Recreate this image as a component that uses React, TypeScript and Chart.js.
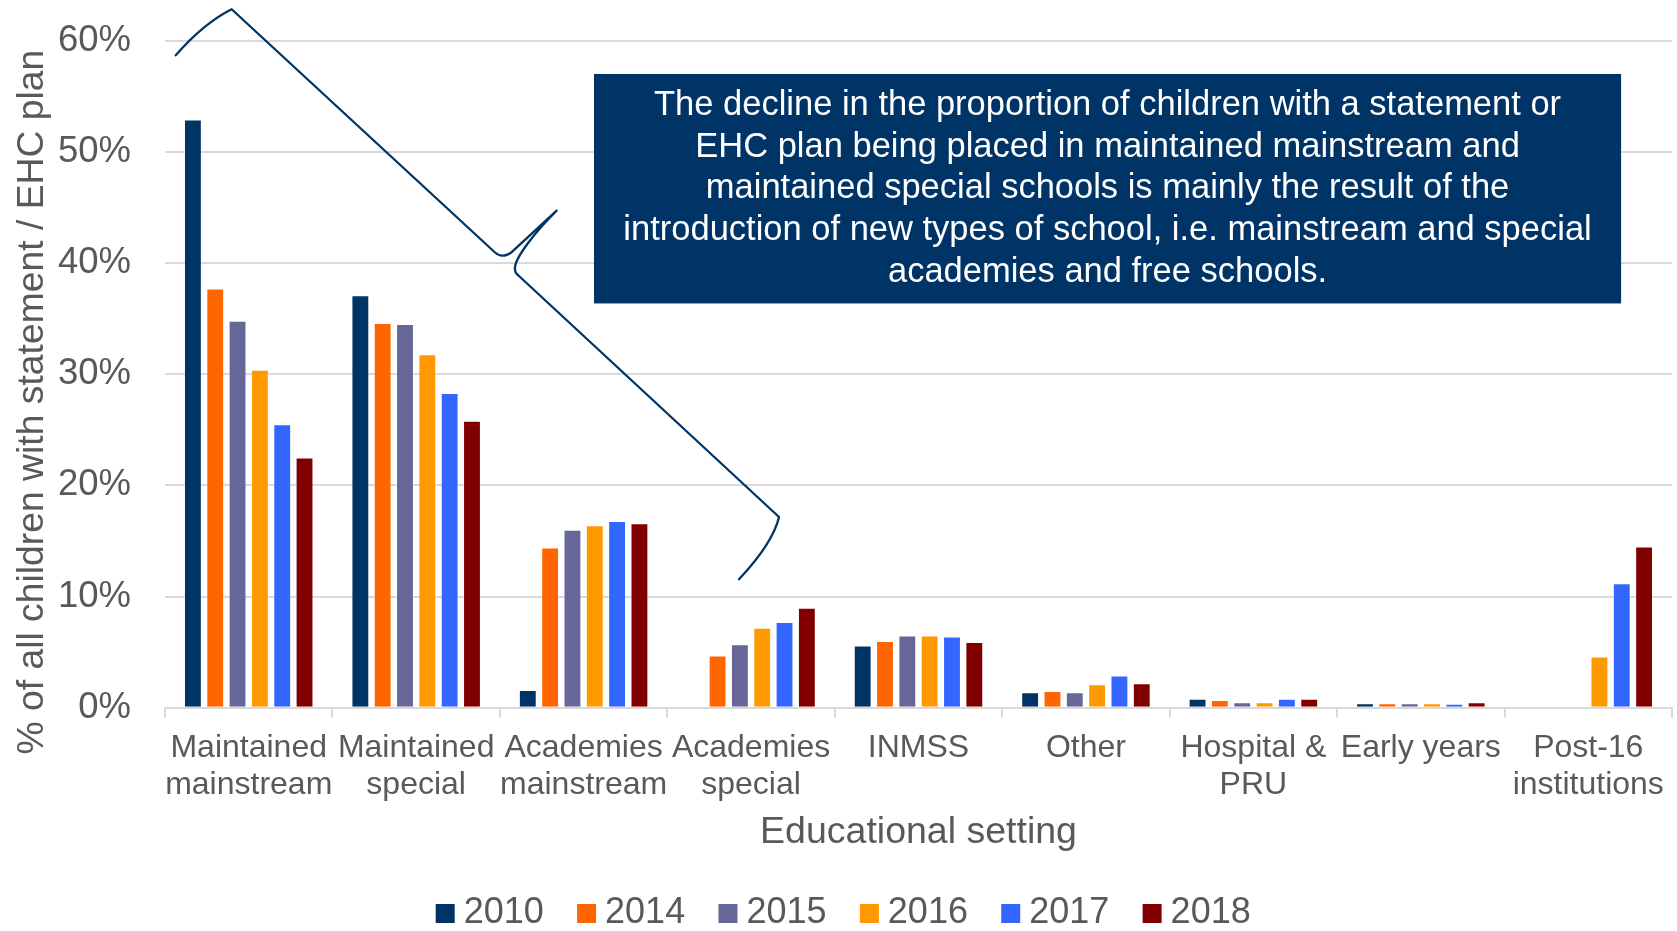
import React, { useEffect, useRef } from "react";
import { Chart, registerables } from "chart.js";

Chart.register(...registerables);

// ---------- data ----------
const categories: (string | string[])[] = [
  ["Maintained", "mainstream"],
  ["Maintained", "special"],
  ["Academies", "mainstream"],
  ["Academies", "special"],
  "INMSS",
  "Other",
  ["Hospital &", "PRU"],
  "Early years",
  ["Post-16", "institutions"],
];

const years = ["2010", "2014", "2015", "2016", "2017", "2018"];
const yearColors = ["#003366", "#FF6600", "#666699", "#FF9900", "#3366FF", "#800000"];

const v2010 = [52.9, 37.1, 1.6, null, 5.6, 1.4, 0.8, 0.4, null];
const v2014 = [37.7, 34.6, 14.4, 4.7, 6.0, 1.5, 0.7, 0.4, null];
const v2015 = [34.8, 34.5, 16.0, 5.7, 6.5, 1.4, 0.5, 0.4, null];
const v2016 = [30.4, 31.8, 16.4, 7.2, 6.5, 2.1, 0.5, 0.4, 4.6];
const v2017 = [25.5, 28.3, 16.8, 7.7, 6.4, 2.9, 0.8, 0.35, 11.2];
const v2018 = [22.5, 25.8, 16.6, 9.0, 5.9, 2.2, 0.8, 0.5, 14.5];
const seriesValues = [v2010, v2014, v2015, v2016, v2017, v2018];

const yMin = 0;
const yMax = 60;
const yStep = 10;

const yTitle = "% of all children with statement / EHC plan";
const xTitle = "Educational setting";

const noteLines = [
  "The decline in the proportion of children with a statement or",
  "EHC plan being placed in maintained mainstream and",
  "maintained special schools is mainly the result of the",
  "introduction of new types of school, i.e. mainstream and special",
  "academies and free schools.",
];

// annotation anchors, in (category index, percent) units
const noteBox = { x0: 2.062, x1: 8.196, yTop: 57.0, yBottom: 36.36 };
type Cmd = { t: "M" | "L" | "Q" | "C"; p: number[][] };
const bracePath: Cmd[] = [
  { t: "M", p: [[-0.436, 58.68]] },
  { t: "Q", p: [[-0.267, 61.58], [-0.102, 62.82]] },
  { t: "L", p: [[1.471, 40.94]] },
  { t: "Q", p: [[1.513, 40.36], [1.572, 40.99]] },
  { t: "L", p: [[1.839, 44.7]] },
  { t: "C", p: [[1.71, 42.79], [1.59, 40.45], [1.59, 39.55]] },
  { t: "Q", p: [[1.587, 39.1], [1.614, 38.83]] },
  { t: "L", p: [[3.167, 17.15]] },
  { t: "Q", p: [[3.131, 14.81], [2.928, 11.55]] },
];

const FONT = "'Liberation Sans', Arial, Helvetica, sans-serif";
const TEXT = "#595959";
const GRID = "#D9D9D9";
const NAVY = "#003366";

const annotationPlugin = {
  id: "noteAnnotation",
  afterDraw(chart: any) {
    const { ctx, scales } = chart;
    const xs = scales.x;
    const ys = scales.y;
    const px = (v: number) => xs.getPixelForValue(v);
    const py = (v: number) => ys.getPixelForValue(v);
    ctx.save();
    // brace
    ctx.beginPath();
    for (const c of bracePath) {
      const pts = c.p.map(([a, b]) => [px(a), py(b)]);
      if (c.t === "M") ctx.moveTo(pts[0][0], pts[0][1]);
      else if (c.t === "L") ctx.lineTo(pts[0][0], pts[0][1]);
      else if (c.t === "Q") ctx.quadraticCurveTo(pts[0][0], pts[0][1], pts[1][0], pts[1][1]);
      else ctx.bezierCurveTo(pts[0][0], pts[0][1], pts[1][0], pts[1][1], pts[2][0], pts[2][1]);
    }
    ctx.strokeStyle = NAVY;
    ctx.lineWidth = 2.3;
    ctx.lineJoin = "round";
    ctx.lineCap = "round";
    ctx.stroke();
    // box
    const bx0 = px(noteBox.x0);
    const bx1 = px(noteBox.x1);
    const by0 = py(noteBox.yTop);
    const by1 = py(noteBox.yBottom);
    ctx.fillStyle = NAVY;
    ctx.fillRect(bx0, by0, bx1 - bx0, by1 - by0);
    ctx.fillStyle = "#FFFFFF";
    ctx.font = `34.5px ${FONT}`;
    ctx.textAlign = "center";
    ctx.textBaseline = "middle";
    const cx = (bx0 + bx1) / 2;
    const cy = (by0 + by1) / 2;
    const lh = 41.7;
    noteLines.forEach((line, i) => {
      ctx.fillText(line, cx, cy + (i - (noteLines.length - 1) / 2) * lh);
    });
    ctx.restore();
  },
};

const yTitlePlugin = {
  id: "yTitle",
  afterDraw(chart: any) {
    const { ctx, chartArea } = chart;
    ctx.save();
    ctx.translate(33, (chartArea.top + chartArea.bottom) / 2 + 28);
    ctx.rotate(-Math.PI / 2);
    ctx.fillStyle = TEXT;
    ctx.font = `37.3px ${FONT}`;
    ctx.textAlign = "center";
    ctx.textBaseline = "middle";
    ctx.fillText(yTitle, 0, 0);
    ctx.restore();
  },
};

// legend drawn from the chart's own datasets (box 19px, 9px gap to text)
const legendPlugin = {
  id: "bottomLegend",
  afterDraw(chart: any) {
    const { ctx } = chart;
    const items = chart.data.datasets.map((d: any) => ({ label: String(d.label), color: d.backgroundColor }));
    ctx.save();
    ctx.font = `36px ${FONT}`;
    ctx.textAlign = "left";
    ctx.textBaseline = "middle";
    const box = 19;
    const gapText = 9;
    const gapItem = 33.3;
    const widths = items.map((it: any) => ctx.measureText(it.label).width);
    const total =
      widths.reduce((s: number, w: number) => s + box + gapText + w, 0) + gapItem * (items.length - 1);
    let x = chart.width / 2 + 4.7 - total / 2;
    const cy = 913.5;
    items.forEach((it: any, i: number) => {
      ctx.fillStyle = it.color;
      ctx.fillRect(x, cy - box / 2, box, box);
      ctx.fillStyle = TEXT;
      ctx.fillText(it.label, x + box + gapText, cy);
      x += box + gapText + widths[i] + gapItem;
    });
    ctx.restore();
  },
};

export default function App() {
  const ref = useRef<HTMLCanvasElement | null>(null);
  useEffect(() => {
    if (!ref.current) return;
    Chart.defaults.font.family = FONT;
    Chart.defaults.color = TEXT;
    const chart = new Chart(ref.current, {
      type: "bar",
      data: {
        labels: categories,
        datasets: years.map((yr, i) => ({
          label: yr,
          data: seriesValues[i],
          backgroundColor: yearColors[i],
          borderColor: "rgba(255,255,255,0.3)",
          borderWidth: 1,
          categoryPercentage: 0.8,
          barPercentage: 0.8,
        })),
      },
      options: {
        responsive: false,
        animation: false,
        layout: { padding: { top: 40.6, right: 5, bottom: 56.3, left: 0 } },
        plugins: {
          legend: { display: false },
          tooltip: { enabled: false },
          title: { display: false },
        },
        scales: {
          x: {
            grid: {
              display: true,
              drawOnChartArea: false,
              drawTicks: true,
              tickLength: 10,
              color: GRID,
              lineWidth: 2,
            },
            border: { display: true, color: GRID, width: 2 },
            ticks: {
              color: TEXT,
              font: { size: 32, family: FONT, lineHeight: 1.15 },
              padding: 12.2,
              maxRotation: 0,
              minRotation: 0,
              autoSkip: false,
            },
            title: {
              display: true,
              text: xTitle,
              color: TEXT,
              font: { size: 37.5, family: FONT, lineHeight: 1.2 },
              padding: { top: -6, bottom: 20 },
            },
          },
          y: {
            min: yMin,
            max: yMax,
            afterFit: (s: any) => {
              s.width = 165;
            },
            grid: {
              color: GRID,
              lineWidth: 2,
              drawTicks: true,
              tickLength: 34,
              tickColor: "rgba(0,0,0,0)",
            },
            border: { display: false },
            ticks: {
              stepSize: yStep,
              padding: 0,
              color: TEXT,
              font: { size: 36.5, family: FONT },
              callback: (v: any) => `${v}%`,
            },
          },
        },
      },
      plugins: [annotationPlugin, yTitlePlugin, legendPlugin],
    } as any);
    return () => chart.destroy();
  }, []);
  return (
    <div style={{ position: "fixed", left: 0, top: 0, width: 1677, height: 931, background: "#fff" }}>
      <canvas ref={ref} width={1677} height={931} style={{ display: "block", width: 1677, height: 931 }} />
    </div>
  );
}
